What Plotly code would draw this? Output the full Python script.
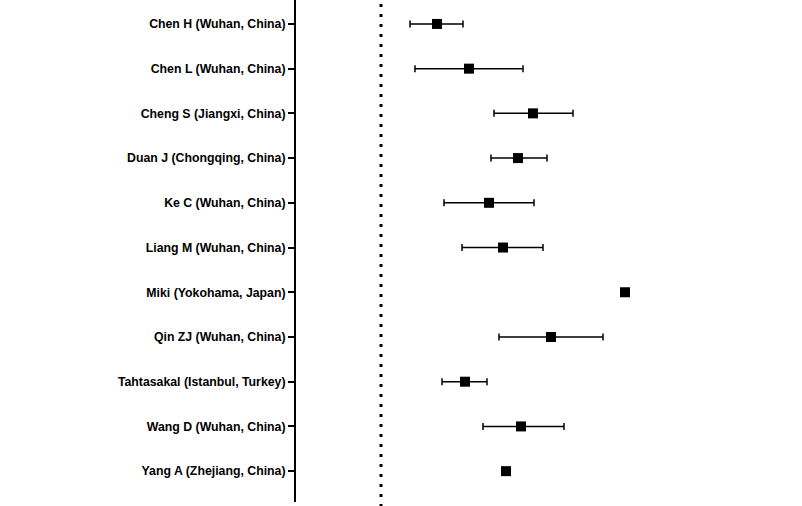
import plotly.graph_objects as go

studies = [
    "Chen H (Wuhan, China)",
    "Chen L (Wuhan, China)",
    "Cheng S (Jiangxi, China)",
    "Duan J (Chongqing, China)",
    "Ke C (Wuhan, China)",
    "Liang M (Wuhan, China)",
    "Miki (Yokohama, Japan)",
    "Qin ZJ (Wuhan, China)",
    "Tahtasakal (Istanbul, Turkey)",
    "Wang D (Wuhan, China)",
    "Yang A (Zhejiang, China)",
]
estimate = [0.56, 0.88, 1.52, 1.37, 1.08, 1.22, 2.44, 1.70, 0.84, 1.40, 1.25]
ci_low =   [0.29, 0.34, 1.13, 1.10, 0.63, 0.81, 2.44, 1.18, 0.61, 1.02, 1.25]
ci_high =  [0.82, 1.42, 1.92, 1.66, 1.53, 1.62, 2.44, 2.22, 1.06, 1.83, 1.25]
reference_value = 0.0

ypos = list(range(len(studies)))
err_plus = [h - e for h, e in zip(ci_high, estimate)]
err_minus = [e - l for e, l in zip(estimate, ci_low)]

fig = go.Figure()
fig.add_trace(go.Scatter(
    x=estimate, y=ypos, mode="markers",
    marker=dict(symbol="square", size=10, color="black"),
    error_x=dict(type="data", symmetric=False, array=err_plus, arrayminus=err_minus,
                 color="black", thickness=1.5, width=3.5),
    showlegend=False, hoverinfo="skip",
))

fig.add_shape(type="line", xref="x", yref="paper", x0=reference_value, x1=reference_value,
              y0=-0.01, y1=1, line=dict(color="black", width=3, dash="3px,7px"))

fig.update_layout(
    width=802, height=506,
    margin=dict(l=296, r=0, t=0, b=4),
    plot_bgcolor="white", paper_bgcolor="white",
    font=dict(family="Liberation Sans, Arial, sans-serif", color="black"),
    xaxis=dict(range=[-0.85, 4.21], visible=False, showgrid=False, zeroline=False),
    yaxis=dict(
        range=[10.69, -0.535], tickmode="array", tickvals=ypos, ticktext=studies,
        showgrid=False, zeroline=False, showline=True, linecolor="black", linewidth=2,
        ticks="outside", ticklen=6, tickwidth=2, tickcolor="black",
        tickfont=dict(size=12.3, family="Liberation Sans, Arial, sans-serif", weight="bold"),
        ticklabelstandoff=0,
    ),
)

fig.write_html("out.html", config={"displayModeBar": False},
               post_script="document.body.style.margin='0';")
